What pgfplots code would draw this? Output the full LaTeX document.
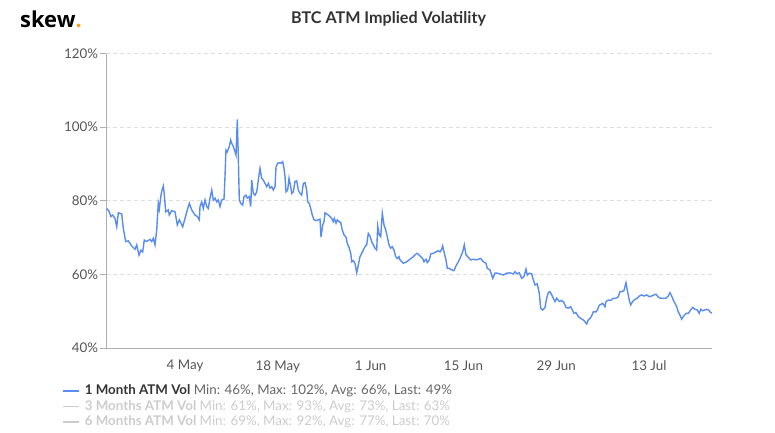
\documentclass[border=0pt]{standalone}
\usepackage{pgfplots}
\usepackage{pgfplotstable}
\pgfplotsset{compat=1.18}
\usepackage{fontspec}
\setmainfont{Lato}
\newfontfamily\logofont{Open Sans}
\definecolor{vol}{RGB}{88,140,240}
\definecolor{gridc}{RGB}{222,222,222}
\definecolor{axisgray}{RGB}{175,175,175}
\definecolor{ticktext}{RGB}{85,85,85}
\definecolor{titlec}{RGB}{51,51,51}
\definecolor{statc}{RGB}{102,102,102}
\definecolor{hidden}{RGB}{204,204,204}
\definecolor{skeworange}{RGB}{245,166,35}

% day 0 = 4 May; value in %
\pgfplotstableread{
d v
-11.81 77.9
-11.42 77.0
-11.21 75.7
-10.91 76.1
-10.56 75.2
-10.30 72.9
-10.06 76.7
-9.55 76.4
-9.31 72.5
-8.95 68.9
-8.55 69.1
-8.04 67.7
-7.54 66.8
-7.29 68.0
-6.94 65.2
-6.64 66.6
-6.38 66.1
-6.14 69.3
-5.78 68.9
-5.28 69.5
-5.02 68.9
-4.78 69.8
-4.53 68.0
-4.27 72.0
-4.03 79.3
-3.88 77.7
-3.62 81.5
-3.47 82.9
-3.27 84.0
-3.12 81.5
-2.91 77.0
-2.52 77.5
-2.37 76.1
-2.01 77.3
-1.51 77.0
-1.16 73.4
-0.86 74.8
-0.60 73.9
-0.35 72.9
0.00 75.2
0.35 77.5
0.65 79.3
1.01 77.5
1.51 76.1
1.86 75.7
2.16 74.8
2.26 78.4
2.52 79.7
2.76 77.9
3.02 80.2
3.27 78.4
3.51 77.9
3.77 80.7
4.03 82.9
4.27 80.2
4.53 80.7
4.78 79.7
5.02 80.2
5.28 78.4
5.54 80.2
5.88 80.4
6.03 86.5
6.18 93.8
6.38 93.3
6.68 94.7
6.89 96.5
7.04 95.6
7.29 94.7
7.54 93.3
7.69 92.4
7.89 102.1
8.04 92.0
8.19 80.2
8.40 79.3
8.70 78.8
8.90 81.1
9.20 81.5
9.40 80.7
9.70 81.1
9.91 78.4
10.06 85.6
10.30 82.0
10.56 81.5
10.82 82.4
11.06 85.6
11.31 88.8
11.57 86.1
11.81 85.6
12.07 84.7
12.32 83.8
12.57 84.7
12.82 83.4
13.08 83.8
13.32 82.9
13.58 83.8
13.73 89.2
13.98 90.2
14.23 90.3
14.48 90.2
14.74 90.6
14.93 88.8
15.09 86.5
15.24 82.4
15.49 82.9
15.69 86.1
15.95 83.8
16.10 82.0
16.34 82.4
16.59 85.2
16.85 85.4
17.09 82.9
17.35 82.0
17.60 81.5
17.85 84.7
18.10 84.9
18.35 82.9
18.51 79.7
18.75 79.3
19.01 77.5
19.20 76.1
19.46 74.8
19.76 74.6
20.11 74.8
20.36 75.0
20.52 70.1
20.77 73.4
20.97 74.3
21.12 76.7
21.38 76.4
21.62 76.1
21.87 75.7
22.13 75.2
22.37 74.3
22.52 75.2
22.78 73.9
22.97 74.8
23.23 74.3
23.49 74.1
23.73 72.0
23.99 70.7
24.29 70.1
24.48 68.4
24.78 67.1
25.00 65.7
25.15 63.4
25.39 63.7
25.64 63.0
25.90 60.4
26.14 62.5
26.40 64.8
26.66 65.7
26.90 66.6
27.15 67.5
27.41 68.0
27.65 71.1
27.90 70.4
28.16 68.9
28.40 68.0
28.66 67.1
28.92 66.6
29.07 73.1
29.31 70.7
29.52 70.2
29.76 76.6
30.02 73.4
30.28 72.0
30.52 70.2
30.77 68.0
31.03 67.1
31.27 67.5
31.53 66.6
31.78 64.8
32.03 64.3
32.28 64.8
32.43 63.9
32.93 63.0
33.44 63.4
33.94 64.1
34.44 64.8
34.95 65.7
35.19 65.5
35.45 65.0
35.86 64.3
36.05 63.4
36.35 64.1
36.55 63.2
36.85 63.9
37.06 65.5
37.46 65.7
37.86 66.1
38.21 66.4
38.47 66.1
38.72 66.8
38.87 67.7
39.07 66.1
39.37 63.9
39.57 61.6
39.87 61.6
40.23 61.2
40.58 61.0
40.88 62.3
41.23 63.4
41.59 64.8
41.89 66.1
42.13 68.0
42.39 65.3
42.74 64.6
43.10 63.9
43.49 64.1
43.90 63.9
44.24 64.1
44.61 64.3
45.00 63.4
45.41 63.0
45.60 61.6
46.01 61.2
46.42 58.9
46.76 60.3
47.11 60.3
47.52 60.1
48.02 59.8
48.53 60.3
49.03 60.4
49.52 60.1
49.78 60.7
50.13 60.1
50.43 60.4
50.79 58.9
51.14 59.4
51.44 61.4
51.64 59.8
51.94 60.3
52.30 60.1
52.54 58.5
52.80 57.1
53.14 57.4
53.45 54.8
53.66 50.8
53.96 50.3
54.31 51.0
54.56 53.5
54.80 55.0
55.06 55.3
55.32 54.4
55.56 53.5
55.81 52.6
56.07 53.5
56.46 52.6
56.82 52.9
57.17 52.3
57.47 51.0
57.82 50.8
58.18 51.2
58.48 50.1
58.68 49.4
58.98 49.6
59.33 48.5
59.69 48.0
60.08 47.6
60.34 47.1
60.60 46.5
60.84 47.6
61.09 48.0
61.35 48.7
61.59 49.8
62.00 49.8
62.20 50.3
62.50 51.6
62.60 51.7
63.01 52.1
63.36 51.2
63.51 52.6
63.86 53.0
64.22 52.9
64.61 53.5
65.02 53.5
65.36 53.9
65.62 55.3
65.88 55.3
66.22 55.6
66.52 57.7
66.72 55.7
67.02 53.0
67.23 51.7
67.53 52.6
67.88 53.2
68.23 53.5
68.53 54.1
68.89 54.4
69.24 54.1
69.65 54.4
70.04 53.9
70.40 54.1
70.75 54.4
71.05 54.6
71.40 53.8
71.76 53.5
72.15 53.5
72.56 53.5
72.90 54.1
73.16 55.0
73.42 54.1
73.66 53.0
73.92 52.1
74.17 51.2
74.41 49.8
74.67 48.9
74.92 47.8
75.17 48.5
75.57 49.4
75.92 49.4
76.28 50.3
76.58 51.0
76.93 50.5
77.28 50.3
77.58 49.4
77.79 50.5
78.10 50.1
78.44 50.3
78.70 50.5
78.98 50.3
79.20 49.8
79.45 49.4
}\onemonth

\begin{document}
\begin{tikzpicture}
\useasboundingbox (0,0) rectangle (775bp,433bp);
\node[anchor=base west,inner sep=0pt] at (20bp,405bp)
  {\logofont\bfseries\fontsize{22}{22}\selectfont skew\textcolor{skeworange}{.}};
\node[anchor=center,inner sep=0pt,text=titlec] at (388.5bp,414.5bp)
  {\bfseries\fontsize{16.2}{18}\selectfont BTC ATM Implied Volatility};
\begin{axis}[
  at={(106bp,85.1bp)}, anchor=south west,
  scale only axis, width=606bp, height=294.4bp,
  xmin=-11.92, xmax=79.5, ymin=40, ymax=120,
  axis x line*=bottom, axis y line*=left,
  x axis line style={draw=axisgray,-}, y axis line style={draw=axisgray,-},
  xtick={0,14,28,42,56,70},
  xticklabels={4 May,18 May,1 Jun,15 Jun,29 Jun,13 Jul},
  ytick={40,60,80,100,120},
  yticklabels={40\%,60\%,80\%,100\%,120\%},
  xtick style={draw=none},
  ytick style={draw=axisgray,line width=0.8bp},
  tick align=outside, major tick length=6bp,
  ymajorgrids,
  grid style={draw=gridc,line width=0.8bp,dash pattern=on 4bp off 3bp},
  tick label style={text=ticktext,font=\fontsize{13.4}{15}\selectfont},
  xticklabel style={yshift=-3bp},
  yticklabel style={xshift=1.5bp},
  legend style={at={(axis description cs:-0.0726,-0.124)}, anchor=north west,
    draw=none, fill=none, inner sep=0pt, row sep=2.5bp, column sep=5bp,
    font=\fontsize{13.4}{15}\selectfont,
    nodes={inner sep=0pt, text height=10bp, text depth=3bp}},
  legend cell align=left,
  legend image code/.code={\draw[#1,line width=1.6bp] (0bp,0bp) -- (16bp,0bp);},
]
\addplot[color=vol, line width=1.4bp] table[x=d,y=v] {\onemonth};
\addlegendentry{\textcolor{titlec}{\bfseries 1 Month ATM Vol} \textcolor{statc}{Min: 46\%, Max: 102\%, Avg: 66\%, Last: 49\%}}
\addlegendimage{color=hidden}
\addlegendentry{\textcolor{hidden}{\bfseries 3 Months ATM Vol} \textcolor{hidden}{Min: 61\%, Max: 93\%, Avg: 73\%, Last: 63\%}}
\addlegendimage{color=hidden}
\addlegendentry{\textcolor{hidden}{\bfseries 6 Months ATM Vol} \textcolor{hidden}{Min: 69\%, Max: 92\%, Avg: 77\%, Last: 70\%}}
\end{axis}
\end{tikzpicture}
\end{document}
